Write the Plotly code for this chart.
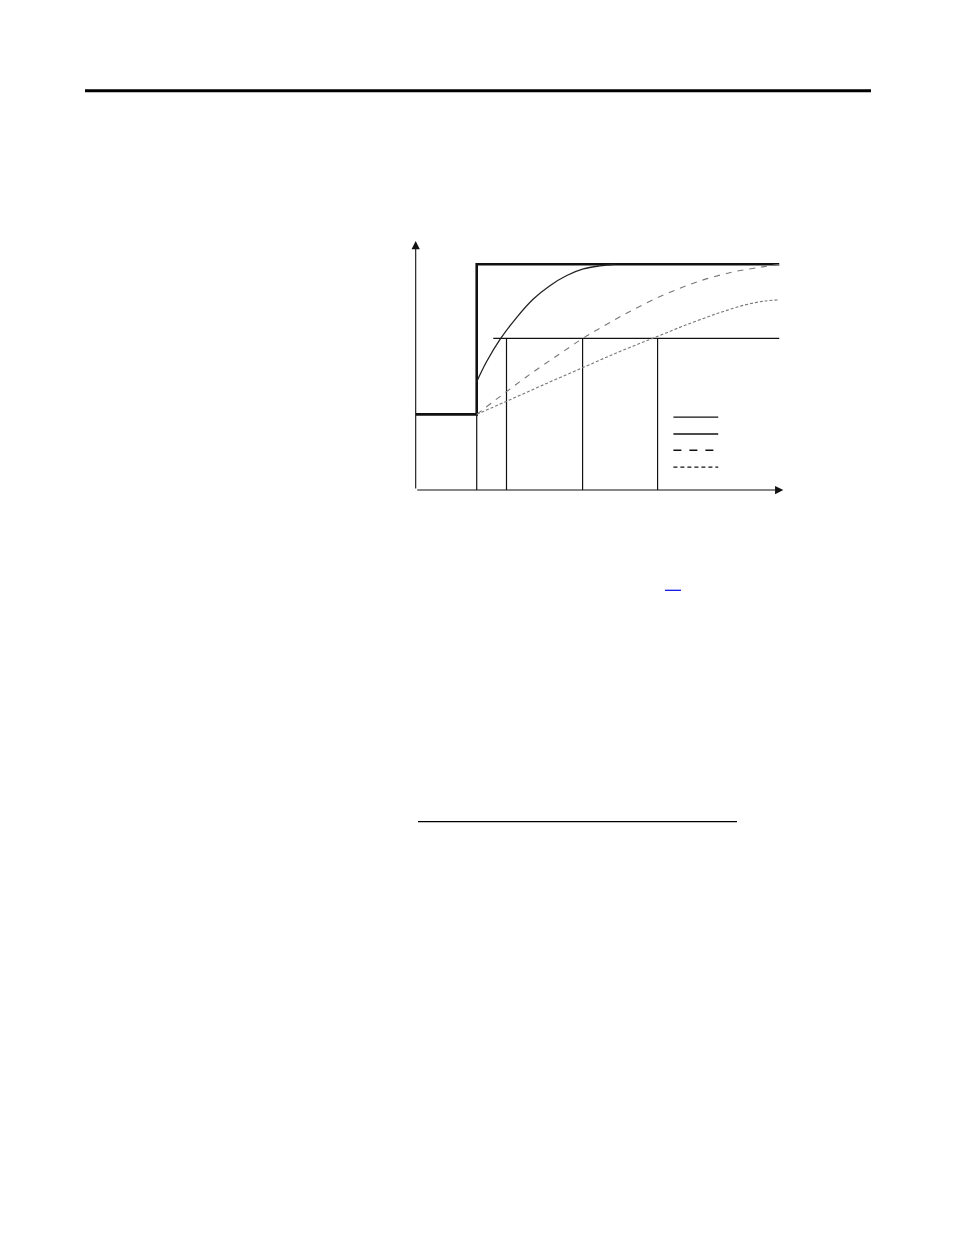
import plotly.graph_objects as go

# Time axis (0..100) and level axis (final level = 100)
step_t = 16.6
low_level = 33.5
high_level = 100.0
threshold = 67.2
threshold_start = 21.1
t_end = 98.9
marker_times = [16.6, 24.7, 45.4, 65.8]

# Solid response curve
solid_t = [16.6, 19.3, 22.9, 27.5, 32.0, 36.5, 41.1, 45.6, 50.1, 54.2]
solid_v = [48.0, 56.9, 66.6, 76.5, 84.6, 90.5, 95.0, 97.9, 99.3, 100.0]

# Long dash response curve
dash_t = [16.6, 24.8, 32.0, 39.3, 45.3, 52.0, 59.2, 68.3, 77.3, 86.4, 93.7, 98.8]
dash_v = [33.5, 43.7, 52.3, 60.4, 67.0, 73.4, 79.9, 87.0, 92.6, 96.6, 98.7, 99.9]

# Short dash response curve
dot_t = [16.6, 24.3, 33.8, 45.3, 55.6, 65.1, 74.6, 82.8, 89.6, 95.0, 98.8]
dot_v = [33.5, 39.0, 45.9, 54.1, 61.4, 67.6, 73.8, 78.6, 82.0, 83.7, 84.2]

# Legend sample lines (no text left on them)
legend_t = [70.1, 82.3]
legend_v = [32.3, 24.8, 17.6, 10.1]
legend_dash = ["solid", "solid", "8px,8px", "4px,3px"]

W, H = 954, 1235

fig = go.Figure()

# Step input
fig.add_trace(go.Scatter(
    x=[0, step_t, step_t, t_end],
    y=[low_level, low_level, high_level, high_level],
    mode="lines", line=dict(color="#111111", width=2.6),
))

# Threshold line
fig.add_trace(go.Scatter(
    x=[threshold_start, t_end], y=[threshold, threshold],
    mode="lines", line=dict(color="#111111", width=1.2),
))

# Vertical markers down to the time axis
for i, t in enumerate(marker_times):
    top = low_level if i == 0 else threshold
    fig.add_trace(go.Scatter(
        x=[t, t], y=[0, top], mode="lines",
        line=dict(color="#111111", width=1.2),
    ))

# Responses
fig.add_trace(go.Scatter(x=solid_t, y=solid_v, mode="lines", line_shape="spline",
                         line=dict(color="#222222", width=1.3)))
fig.add_trace(go.Scatter(x=dash_t, y=dash_v, mode="lines", line_shape="spline",
                         line=dict(color="#777777", width=1.1, dash="6px,6px")))
fig.add_trace(go.Scatter(x=dot_t, y=dot_v, mode="lines", line_shape="spline",
                         line=dict(color="#777777", width=1.1, dash="3px,2px")))

# Legend samples
for v, d in zip(legend_v, legend_dash):
    fig.add_trace(go.Scatter(x=legend_t, y=[v, v], mode="lines",
                             line=dict(color="#111111", width=1.3, dash=d)))

# Axes with arrow heads
arrows = [
    dict(x=100, y=0, ax=0, ay=0),
    dict(x=0, y=110.3, ax=0, ay=0),
]
for a in arrows:
    fig.add_annotation(
        x=a["x"], y=a["y"], ax=a["ax"], ay=a["ay"],
        xref="x", yref="y", axref="x", ayref="y",
        text="", showarrow=True, arrowhead=2, arrowsize=1.5,
        arrowwidth=1.1, arrowcolor="#111111", standoff=0, startstandoff=0,
    )

# Page rules (header rule, link underline, short rule)
page_rules = [
    dict(x0=85, x1=871, y=90.7, w=3, c="#000000"),
    dict(x0=665, x1=681, y=590.3, w=1.2, c="#0000dd"),
    dict(x0=418, x1=737, y=821.7, w=1.2, c="#000000"),
]
for r in page_rules:
    fig.add_shape(type="line", xref="paper", yref="paper",
                  x0=r["x0"] / W, x1=r["x1"] / W,
                  y0=1 - r["y"] / H, y1=1 - r["y"] / H,
                  line=dict(color=r["c"], width=r["w"]))

fig.update_layout(
    width=W, height=H,
    margin=dict(l=0, r=0, t=0, b=0),
    paper_bgcolor="white", plot_bgcolor="white",
    showlegend=False,
    xaxis=dict(range=[0, 100], domain=[415.7 / W, 783.3 / W], visible=False),
    yaxis=dict(range=[0, 110.3], domain=[1 - 490 / H, 1 - 241 / H], visible=False),
)

fig.write_html("out.html", config={"displayModeBar": False},
               post_script="document.body.style.margin='0px';")
